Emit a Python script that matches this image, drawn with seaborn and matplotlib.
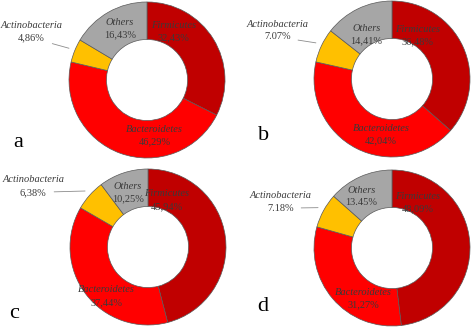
import numpy as np
import seaborn as sns
import matplotlib.pyplot as plt

# --- dati ---
phyla = ['Firmicutes', 'Bacteroidetes', 'Actinobacteria', 'Others']
panels = ['a', 'b', 'c', 'd']
pct_a = [32.43, 46.29, 4.86, 16.43]
pct_b = [36.48, 42.04, 7.07, 14.41]
pct_c = [45.94, 37.44, 6.38, 10.25]
pct_d = [48.09, 31.27, 7.18, 13.45]
lab_a = ['32,43%', '46,29%', '4,86%', '16,43%']
lab_b = ['36,48%', '42,04%', '7.07%', '14,41%']
lab_c = ['45,94%', '37,44%', '6,38%', '10,25%']
lab_d = ['48,09%', '31,27%', '7.18%', '13.45%']

values = [pct_a, pct_b, pct_c, pct_d]
labels = [lab_a, lab_b, lab_c, lab_d]

# --- layout (pixel) ---
W, H = 472, 330
centers = [(147, 80), (392, 79), (148, 247), (392, 248)]
R = 78
# posizione etichette (unità del raggio) per Firmicutes, Bacteroidetes, Actinobacteria, Others
label_pos = [
    [(0.34, 0.62), (0.10, -0.71), (-1.48, 0.62), (-0.35, 0.66)],
    [(0.33, 0.56), (-0.14, -0.71), (-1.47, 0.62), (-0.33, 0.57)],
    [(0.24, 0.60), (-0.53, -0.63), (-1.47, 0.78), (-0.26, 0.70)],
    [(0.33, 0.58), (-0.37, -0.65), (-1.43, 0.59), (-0.39, 0.66)],
]
letter_pos = [(18, 147), (264, 140), (14, 318), (263, 311)]

sns.set_theme(style='white')
plt.rcParams['font.family'] = ['Liberation Serif', 'DejaVu Serif']
colors = sns.color_palette(['#C00000', '#FF0000', '#FFC000', '#A6A6A6'])
txt_col = '#3a3a3a'

fig = plt.figure(figsize=(W / 100, H / 100), dpi=100)

for i in range(4):
    cx, cy = centers[i]
    ax = fig.add_axes([(cx - R) / W, (H - cy - R) / H, 2 * R / W, 2 * R / H])
    vals = values[i]
    ax.pie(vals, startangle=90, counterclock=False, colors=colors,
           wedgeprops=dict(width=0.48, edgecolor='#595959', linewidth=0.5))
    ax.set_xlim(-1, 1)
    ax.set_ylim(-1, 1)
    ax.axis('off')

    cum = np.cumsum([0] + vals)
    for j, name in enumerate(phyla):
        x, y = label_pos[i][j]
        if name == 'Actinobacteria':
            mid = np.deg2rad((cum[j] + cum[j + 1]) / 2 * 3.6)
            ex, ey = 1.08 * np.sin(mid), 1.08 * np.cos(mid)
            ax.text(x, y + 0.08, name, style='italic', ha='center', va='center',
                    fontsize=7.5, color=txt_col)
            ax.annotate(labels[i][j], xy=(ex, ey), xytext=(x, y - 0.08),
                        ha='center', va='center', fontsize=7.5, color=txt_col,
                        arrowprops=dict(arrowstyle='-', color='#8c8c8c', lw=0.6,
                                        shrinkA=3, shrinkB=0))
        else:
            ax.text(x, y + 0.08, name, style='italic', ha='center', va='center',
                    fontsize=7.5, color=txt_col)
            ax.text(x, y - 0.08, labels[i][j], ha='center', va='center',
                    fontsize=7.5, color=txt_col)

for i, p in enumerate(panels):
    lx, ly = letter_pos[i]
    fig.text(lx / W, 1 - ly / H, p, fontsize=16, color='black', ha='center', va='baseline')

plt.savefig('out.png', dpi=100)
